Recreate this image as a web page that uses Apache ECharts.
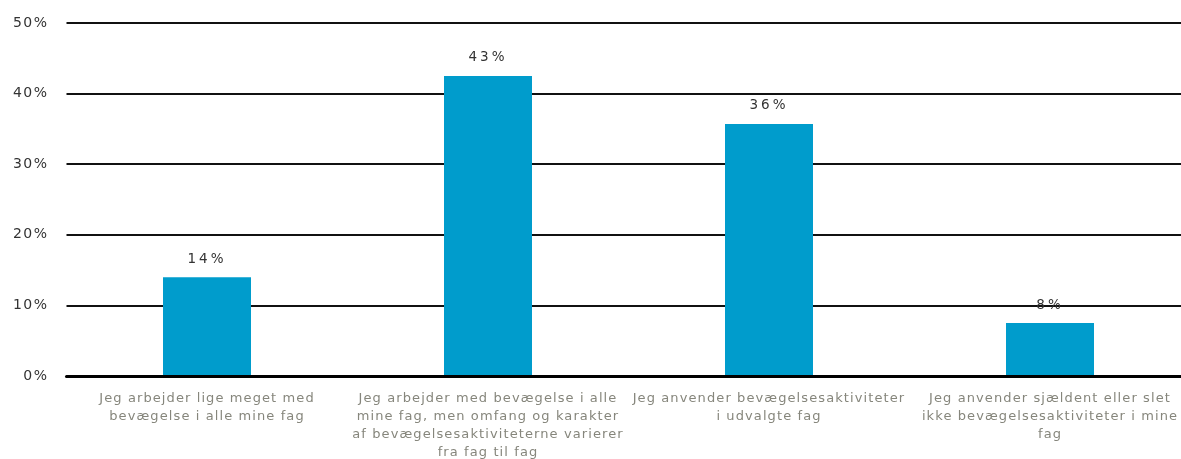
<!DOCTYPE html>
<html>
<head>
<meta charset="utf-8">
<script src="https://cdn.jsdelivr.net/npm/echarts@6/dist/echarts.min.js"></script>
<style>
  html, body { margin: 0; padding: 0; background: #ffffff; }
  #chart { width: 1181px; height: 459px; }
</style>
</head>
<body>
<div id="chart"></div>
<script>
// Answer categories (wrapped onto lines as printed under each bar)
const categories = [
  'Jeg arbejder lige meget med\nbevægelse i alle mine fag',
  'Jeg arbejder med bevægelse i alle\nmine fag, men omfang og karakter\naf bevægelsesaktiviteterne varierer\nfra fag til fag',
  'Jeg anvender bevægelsesaktiviteter\ni udvalgte fag',
  'Jeg anvender sjældent eller slet\nikke bevægelsesaktiviteter i mine\nfag'
];
// Share of respondents, in percent
const shares = [14.0, 42.5, 35.7, 7.5];
// Value axis ticks, in percent
const yTicks = [0, 10, 20, 30, 40, 50];

// Loose tracking for the chart text: spacing chosen by font size
const tracking = { '13': '1.1px', '14': '1.5px', '13.5': '3px' };
const baseFillText = CanvasRenderingContext2D.prototype.fillText;
CanvasRenderingContext2D.prototype.fillText = function (...args) {
  const m = /([\d.]+)px/.exec(this.font || '');
  this.letterSpacing = (m && tracking[m[1]]) || '0px';
  return baseFillText.apply(this, args);
};

const chart = echarts.init(document.getElementById('chart'), null, { renderer: 'canvas' });

const labelFont = 'DejaVu Sans';

chart.setOption({
  animation: false,
  backgroundColor: '#ffffff',
  grid: {
    left: 66.5, width: 1124, top: 23, bottom: 83,
    containLabel: false, outerBoundsMode: 'none'
  },
  xAxis: {
    type: 'category',
    data: categories,
    axisTick: { show: false },
    axisLine: { show: true, lineStyle: { color: '#000000', width: 3 } },
    axisLabel: {
      interval: 0,
      margin: 14,
      color: '#86867c',
      fontFamily: labelFont,
      fontSize: 13,
      lineHeight: 18,
      align: 'center'
    },
    z: 3
  },
  yAxis: {
    type: 'value',
    min: yTicks[0],
    max: yTicks[yTicks.length - 1],
    interval: yTicks[1] - yTicks[0],
    axisLine: { show: false },
    axisTick: { show: false },
    axisLabel: {
      margin: 18,
      color: '#333333',
      fontFamily: labelFont,
      fontSize: 14,
      formatter: v => v + '%'
    },
    splitLine: { show: true, lineStyle: { color: '#111111', width: 2 } }
  },
  series: [{
    type: 'bar',
    data: shares,
    barWidth: 88,
    itemStyle: { color: '#009ccc' },
    label: {
      show: true,
      position: 'top',
      distance: 11,
      color: '#333333',
      fontFamily: labelFont,
      fontSize: 13.5,
      formatter: p => Math.round(p.value) + '%'
    },
    z: 2
  }]
});
</script>
</body>
</html>
